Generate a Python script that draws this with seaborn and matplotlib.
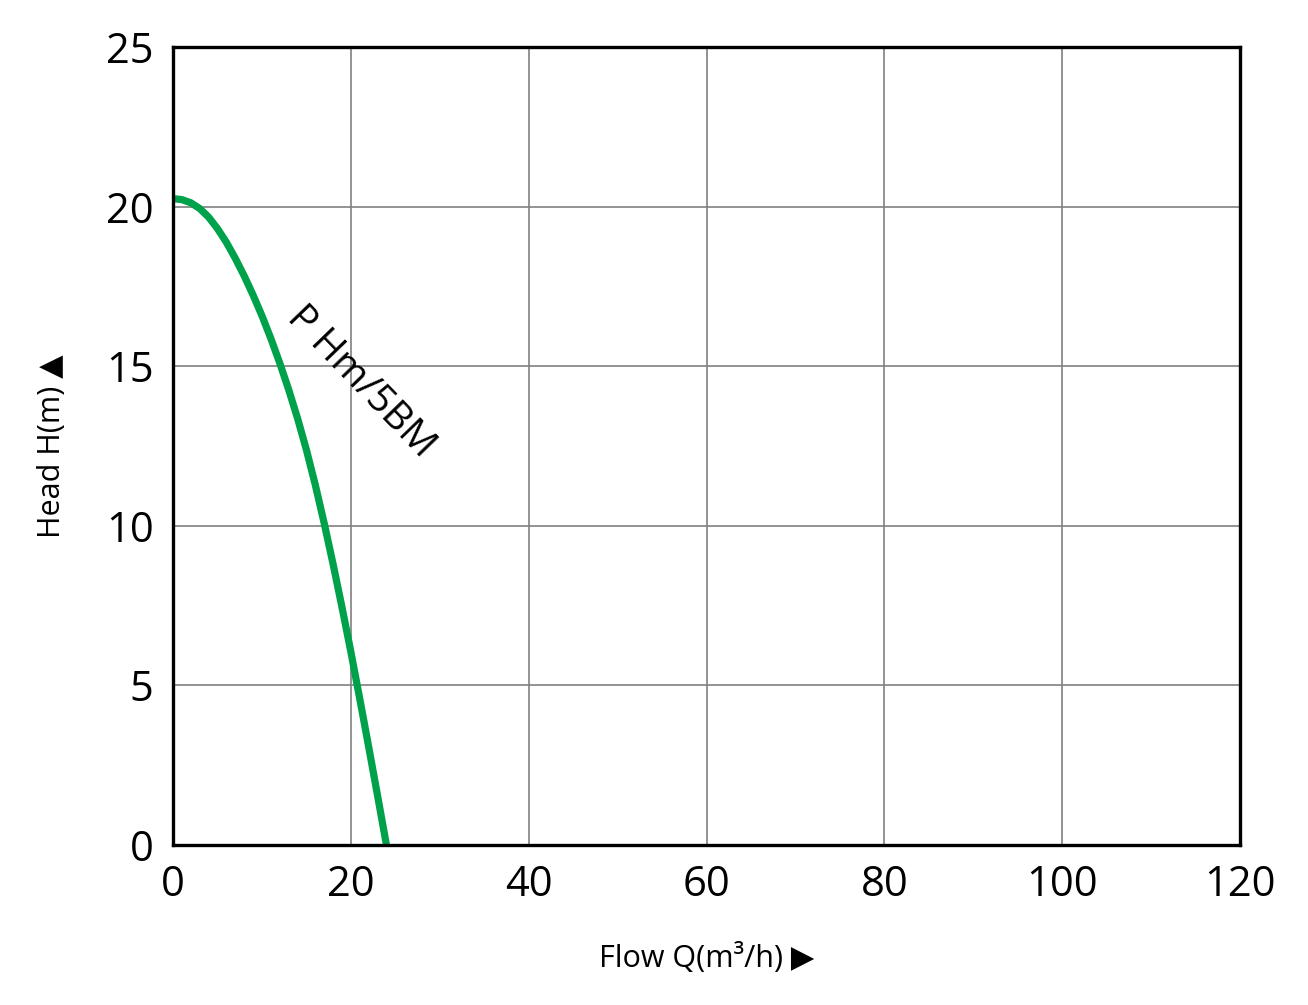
import seaborn as sns
import pandas as pd
import numpy as np
import matplotlib.pyplot as plt

sns.set_theme(style='white')
plt.rcParams['font.family'] = ['Open Sans', 'DejaVu Sans']

# pump curve
flow = [0, 1, 2, 3, 4, 5, 6, 7, 8, 9, 10, 11, 12,
        13, 14, 15, 16, 17, 18, 19, 20, 21, 22, 23, 24]
head = [20.25, 20.22, 20.12, 19.94, 19.67, 19.31, 18.88, 18.38, 17.83, 17.23, 16.58, 15.87, 15.10,
        14.27, 13.37, 12.38, 11.28, 10.08, 8.80, 7.45, 6.05, 4.58, 3.08, 1.55, 0.0]
curve_name = 'P Hm/5BM'
x_ticks = [0, 20, 40, 60, 80, 100, 120]
y_ticks = [0, 5, 10, 15, 20, 25]

df = pd.DataFrame({'Flow': flow, 'Head': head})

fig = plt.figure(figsize=(6.54, 5.025), dpi=200)
ax = fig.add_axes([0.1323, 0.1592, 0.8157, 0.794])

sns.lineplot(data=df, x='Flow', y='Head', ax=ax, color='#00A14B', linewidth=2.6)

ax.set_xlim(0, 120)
ax.set_ylim(0, 25)
ax.set_xticks(x_ticks)
ax.set_yticks(y_ticks)
ax.grid(True, color='#808080', linewidth=0.6)
for s in ax.spines.values():
    s.set_color('black')
    s.set_linewidth(1.2)
ax.tick_params(axis='both', direction='out', length=4, width=1.2, color='black',
               labelsize=15, labelcolor='black', pad=3)

ax.set_xlabel('Flow Q(m³/h) ▶', fontsize=11, color='black', labelpad=13)
ax.set_ylabel('Head H(m) ▲', fontsize=11, color='black', labelpad=14)

ax.text(21.1, 14.5, curve_name, rotation=-46, fontsize=14, color='black',
        ha='center', va='center', rotation_mode='anchor')

plt.savefig('out.png', dpi=200)
